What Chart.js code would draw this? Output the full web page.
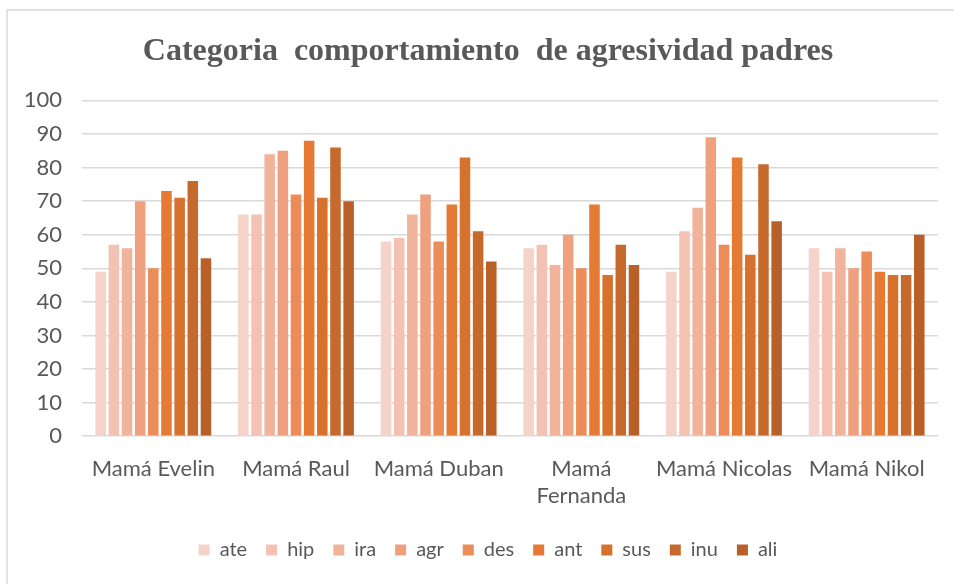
<!DOCTYPE html>
<html>
<head>
<meta charset="utf-8">
<script src="https://cdn.jsdelivr.net/npm/chart.js@4/dist/chart.umd.min.js"></script>
<style>
  html, body { margin: 0; padding: 0; background: #ffffff; }
  #wrap { width: 954px; height: 584px; position: relative; }
</style>
</head>
<body>
<div id="wrap"><canvas id="c" width="954" height="584"></canvas></div>
<script>
const titleText = 'Categoria  comportamiento  de agresividad padres';
const categories = ['Mamá Evelin', 'Mamá Raul', 'Mamá Duban', ['Mamá', 'Fernanda'], 'Mamá Nicolas', 'Mamá Nikol'];
const seriesNames = ['ate', 'hip', 'ira', 'agr', 'des', 'ant', 'sus', 'inu', 'ali'];
const ate = [49, 66, 58, 56, 49, 56];
const hip = [57, 66, 59, 57, 61, 49];
const ira = [56, 84, 66, 51, 68, 56];
const agr = [70, 85, 72, 60, 89, 50];
const des = [50, 72, 58, 50, 57, 55];
const ant = [73, 88, 69, 69, 83, 49];
const sus = [71, 71, 83, 48, 54, 48];
const inu = [76, 86, 61, 57, 81, 48];
const ali = [53, 70, 52, 51, 64, 60];
const yTicks = [0, 10, 20, 30, 40, 50, 60, 70, 80, 90, 100];

const seriesValues = [ate, hip, ira, agr, des, ant, sus, inu, ali];
const colors = ['#F6D3C9', '#F4C2B2', '#F2B39B', '#EFA07E', '#EC8C58', '#E57A34', '#D6712E', '#C6692C', '#B86027'];

const frame = {
  id: 'frame',
  beforeDraw(chart) {
    const ctx = chart.ctx;
    ctx.save();
    ctx.strokeStyle = '#d9d9d9';
    ctx.lineWidth = 1.5;
    ctx.beginPath();
    ctx.moveTo(7, chart.height + 5);
    ctx.lineTo(7, 10);
    ctx.lineTo(chart.width + 5, 10);
    ctx.stroke();
    ctx.restore();
  }
};

const textColor = '#595959';
const fontFamily = "Lato, 'Liberation Sans', sans-serif";

new Chart(document.getElementById('c'), {
  type: 'bar',
  data: {
    labels: categories,
    datasets: seriesNames.map((n, i) => ({
      label: n,
      data: seriesValues[i],
      backgroundColor: colors[i],
      borderWidth: 0,
      barPercentage: 0.8,
      categoryPercentage: 0.83
    }))
  },
  options: {
    responsive: false,
    animation: false,
    layout: { padding: { left: 22, right: 0, top: 22, bottom: 14 } },
    plugins: {
      title: {
        display: true,
        text: titleText,
        color: textColor,
        font: { family: "'Liberation Serif', 'Times New Roman', serif", size: 32, weight: 'bold' },
        padding: { top: 11, bottom: 29 }
      },
      legend: {
        position: 'bottom',
        labels: {
          color: textColor,
          font: { family: fontFamily, size: 20 },
          boxWidth: 11,
          boxHeight: 11,
          padding: 19
        }
      },
      tooltip: { enabled: false }
    },
    scales: {
      x: {
        grid: { display: false },
        border: { display: false },
        ticks: {
          color: textColor,
          font: { family: fontFamily, size: 22 },
          maxRotation: 0,
          autoSkip: false,
          padding: 12
        }
      },
      y: {
        min: 0,
        max: 100,
        afterBuildTicks(axis) { axis.ticks = yTicks.map(v => ({ value: v })); },
        afterFit(axis) { axis.width = 60; },
        grid: { color: '#d9d9d9', lineWidth: 1.5, drawTicks: false },
        border: { display: false },
        ticks: {
          color: textColor,
          font: { family: fontFamily, size: 22 },
          padding: 20
        }
      },
      spacer: {
        type: 'linear',
        position: 'right',
        display: true,
        afterFit(axis) { axis.width = 16; },
        grid: { display: false },
        border: { display: false },
        ticks: { display: false }
      }
    }
  },
  plugins: [frame]
});
</script>
</body>
</html>
